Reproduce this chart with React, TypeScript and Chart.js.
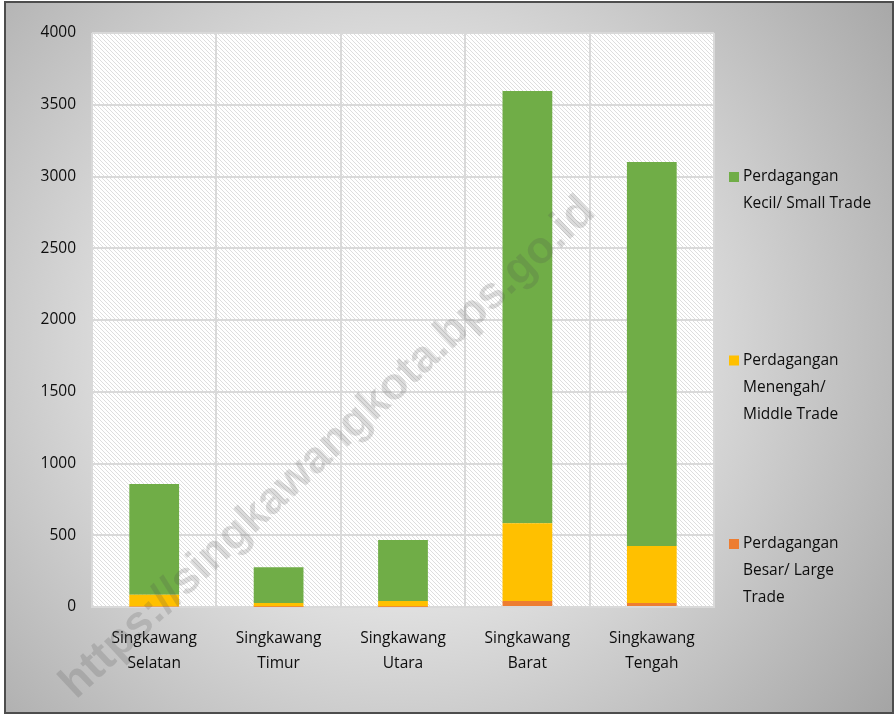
import React, { useEffect, useRef } from "react";
import { Chart, registerables } from "chart.js";

Chart.register(...registerables);

// ---- data ----
const categories: string[][] = [
  ["Singkawang", "Selatan"],
  ["Singkawang", "Timur"],
  ["Singkawang", "Utara"],
  ["Singkawang", "Barat"],
  ["Singkawang", "Tengah"],
];
const largeTrade = [3, 2, 2, 42, 28];
const middleTrade = [83, 26, 40, 541, 397];
const smallTrade = [771, 249, 425, 3013, 2676];

const seriesNames = [
  "Perdagangan Besar/ Large Trade",
  "Perdagangan Menengah/ Middle Trade",
  "Perdagangan Kecil/ Small Trade",
];
const legendLines: string[][] = [
  ["Perdagangan", "Besar/ Large", "Trade"],
  ["Perdagangan", "Menengah/", "Middle Trade"],
  ["Perdagangan", "Kecil/ Small Trade"],
];
const seriesColors = ["#ED7D31", "#FFC000", "#70AD47"];

const yMin = 0;
const yMax = 4000;
const yStep = 500;

const watermark = "https://singkawangkota.bps.go.id";

const W = 894;
const H = 715;
const FONT = "'Open Sans', 'DejaVu Sans', sans-serif";

function makeHatch(): CanvasPattern | string {
  const c = document.createElement("canvas");
  c.width = 4;
  c.height = 4;
  const g = c.getContext("2d");
  if (!g) return "#f2f2f2";
  g.fillStyle = "#ffffff";
  g.fillRect(0, 0, 4, 4);
  g.fillStyle = "#dedede";
  for (let i = 0; i < 4; i++) {
    g.fillRect(i, i, 1, 1);
  }
  const p = g.createPattern(c, "repeat");
  return p || "#f2f2f2";
}

const backgroundPlugin = {
  id: "bgPlugin",
  beforeDraw(chart: any) {
    const ctx = chart.ctx as CanvasRenderingContext2D;
    const { chartArea } = chart;
    ctx.save();
    ctx.fillStyle = "#ffffff";
    ctx.fillRect(0, 0, W, H);
    const grad = ctx.createRadialGradient(400, 340, 0, 400, 340, 620);
    grad.addColorStop(0, "#f0f0f0");
    grad.addColorStop(0.35, "#e8e8e8");
    grad.addColorStop(1, "#a4a4a4");
    ctx.fillStyle = grad;
    ctx.fillRect(5, 2, W - 6, H - 4);
    ctx.strokeStyle = "#4d4d4d";
    ctx.lineWidth = 2;
    ctx.strokeRect(5, 2, W - 6, H - 4);
    ctx.fillStyle = makeHatch();
    ctx.fillRect(
      chartArea.left,
      chartArea.top,
      chartArea.right - chartArea.left,
      chartArea.bottom - chartArea.top
    );
    ctx.restore();
  },
};

const overlayPlugin = {
  id: "overlayPlugin",
  afterDraw(chart: any) {
    const ctx = chart.ctx as CanvasRenderingContext2D;
    ctx.save();
    // legend (reverse order: top series first)
    const ds = chart.data.datasets;
    const legendX = 729;
    const legendTop = 177;
    const legendGap = 183.5;
    const lineH = 27;
    ctx.font = `15.5px ${FONT}`;
    ctx.textBaseline = "middle";
    ctx.textAlign = "left";
    for (let k = 0; k < ds.length; k++) {
      const idx = ds.length - 1 - k;
      const y0 = legendTop + k * legendGap;
      ctx.fillStyle = ds[idx].backgroundColor;
      ctx.fillRect(legendX, y0 - 5, 10, 10);
      ctx.fillStyle = "#0d0d0d";
      legendLines[idx].forEach((ln, j) => {
        ctx.fillText(ln, legendX + 14, y0 + j * lineH);
      });
    }
    // watermark
    ctx.translate(328, 448);
    ctx.rotate(-43 * Math.PI / 180);
    ctx.font = `bold 45px 'Liberation Sans', Arial, sans-serif`;
    ctx.textAlign = "center";
    ctx.textBaseline = "middle";
    ctx.fillStyle = "rgba(80,80,80,0.2)";
    ctx.fillText(watermark, 0, 0);
    ctx.restore();
  },
};

export default function App() {
  const ref = useRef<HTMLCanvasElement | null>(null);
  useEffect(() => {
    document.body.style.margin = "0";
    if (!ref.current) return;
    const chart = new Chart(ref.current, {
      type: "bar",
      data: {
        labels: categories,
        datasets: [
          { label: seriesNames[0], data: largeTrade, backgroundColor: seriesColors[0] },
          { label: seriesNames[1], data: middleTrade, backgroundColor: seriesColors[1] },
          { label: seriesNames[2], data: smallTrade, backgroundColor: seriesColors[2] },
        ],
      },
      options: {
        responsive: false,
        animation: false,
        devicePixelRatio: 1,
        layout: { padding: { top: 33, left: 0, right: 180, bottom: 0 } },
        datasets: { bar: { barPercentage: 0.4, categoryPercentage: 1 } },
        plugins: {
          legend: { display: false },
          tooltip: { enabled: false },
        },
        scales: {
          x: {
            stacked: true,
            grid: { color: "#d9d9d9", lineWidth: 2, drawTicks: false, offset: true },
            border: { color: "#d9d9d9", width: 2 },
            ticks: {
              color: "#0d0d0d",
              font: { family: FONT, size: 15.5, lineHeight: 1.62 },
              padding: 19,
              maxRotation: 0,
              autoSkip: false,
            },
            afterFit: (s: any) => {
              s.height = 108;
            },
          },
          y: {
            stacked: true,
            min: yMin,
            max: yMax,
            grid: { color: "#d9d9d9", lineWidth: 2, drawTicks: false },
            border: { display: false },
            ticks: {
              stepSize: yStep,
              color: "#0d0d0d",
              font: { family: FONT, size: 15.5 },
              padding: 16,
              callback: (v: any) => String(v),
            },
            afterFit: (s: any) => {
              s.width = 92;
            },
          },
        },
      },
      plugins: [backgroundPlugin, overlayPlugin],
    } as any);
    return () => chart.destroy();
  }, []);
  return <canvas ref={ref} width={W} height={H} style={{ display: "block" }} />;
}
